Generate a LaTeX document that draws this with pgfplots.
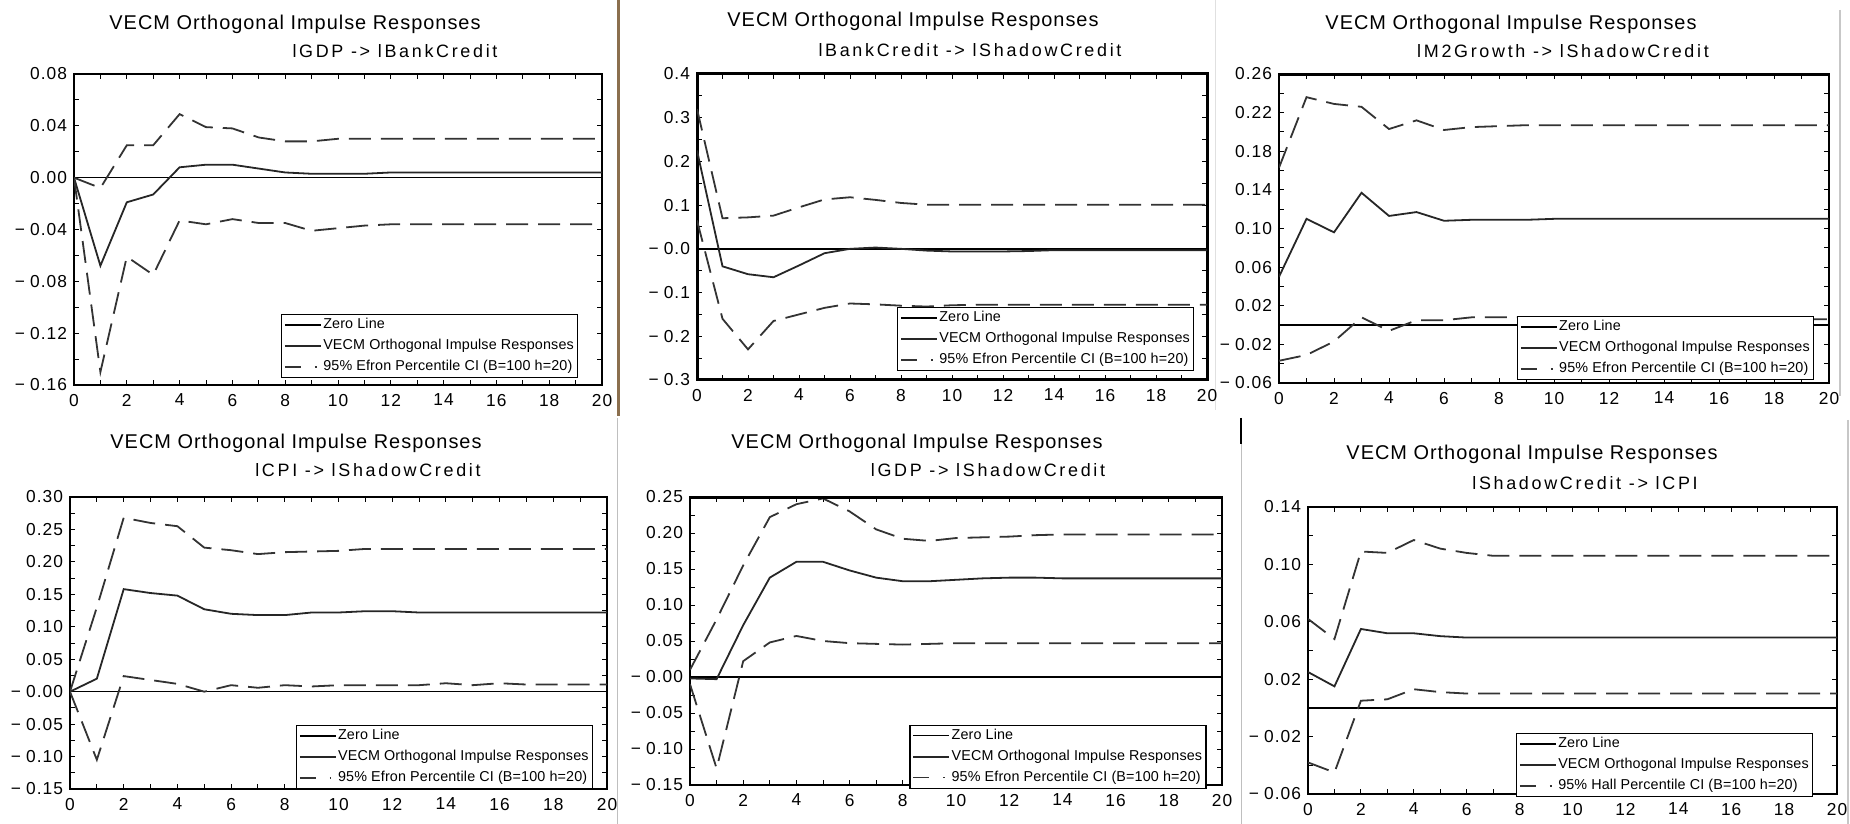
\documentclass[border=0pt]{standalone}
\usepackage{fontspec}
\setmainfont{Liberation Sans}
\newfontfamily\ttlfont[LetterSpace=5]{Liberation Sans}
\newfontfamily\subfont[LetterSpace=15]{Liberation Sans}
\newfontfamily\tickfont[LetterSpace=6]{Liberation Sans}
\newfontfamily\legfont[LetterSpace=1]{Liberation Sans}
\usepackage{pgfplots}
\usepackage{pgfplotstable}
\pgfplotsset{compat=1.18}

\pgfplotstableread{
x irf up lo
0 0.000 0.000 0.000
1 -0.068 -0.008 -0.150
2 -0.019 0.025 -0.061
3 -0.013 0.025 -0.075
4 0.008 0.049 -0.033
5 0.010 0.039 -0.036
6 0.010 0.038 -0.032
7 0.007 0.031 -0.035
8 0.004 0.028 -0.035
9 0.003 0.028 -0.041
10 0.003 0.030 -0.039
11 0.003 0.030 -0.037
12 0.004 0.030 -0.036
13 0.004 0.030 -0.036
14 0.004 0.030 -0.036
15 0.004 0.030 -0.036
16 0.004 0.030 -0.036
17 0.004 0.030 -0.036
18 0.004 0.030 -0.036
19 0.004 0.030 -0.036
20 0.004 0.030 -0.036
}\tabA

\pgfplotstableread{
x irf up lo
0 0.225 0.320 0.065
1 -0.040 0.070 -0.160
2 -0.058 0.072 -0.230
3 -0.065 0.076 -0.165
4 -0.038 0.095 -0.150
5 -0.010 0.113 -0.135
6 0.000 0.118 -0.125
7 0.003 0.112 -0.127
8 0.000 0.105 -0.130
9 -0.004 0.101 -0.132
10 -0.006 0.101 -0.129
11 -0.006 0.101 -0.128
12 -0.006 0.101 -0.128
13 -0.005 0.101 -0.128
14 -0.003 0.101 -0.128
15 -0.003 0.101 -0.128
16 -0.003 0.101 -0.128
17 -0.003 0.101 -0.128
18 -0.003 0.101 -0.128
19 -0.003 0.101 -0.128
20 -0.003 0.101 -0.128
}\tabB

\pgfplotstableread{
x irf up lo
0 0.050 0.163 -0.037
1 0.110 0.236 -0.031
2 0.096 0.229 -0.017
3 0.137 0.226 0.008
4 0.113 0.203 -0.006
5 0.117 0.212 0.005
6 0.108 0.202 0.005
7 0.109 0.205 0.008
8 0.109 0.206 0.008
9 0.109 0.207 0.008
10 0.110 0.207 0.007
11 0.110 0.207 0.006
12 0.110 0.207 0.006
13 0.110 0.207 0.006
14 0.110 0.207 0.006
15 0.110 0.207 0.006
16 0.110 0.207 0.006
17 0.110 0.207 0.006
18 0.110 0.207 0.006
19 0.110 0.207 0.006
20 0.110 0.207 0.006
}\tabC

\pgfplotstableread{
x irf up lo
0 0.000 0.000 0.000
1 0.020 0.130 -0.105
2 0.158 0.268 0.024
3 0.152 0.260 0.018
4 0.148 0.255 0.012
5 0.127 0.222 0.000
6 0.120 0.218 0.010
7 0.118 0.212 0.006
8 0.118 0.215 0.010
9 0.122 0.216 0.008
10 0.122 0.217 0.010
11 0.124 0.220 0.010
12 0.124 0.220 0.010
13 0.122 0.220 0.010
14 0.122 0.220 0.013
15 0.122 0.220 0.010
16 0.122 0.220 0.013
17 0.122 0.220 0.011
18 0.122 0.220 0.011
19 0.122 0.220 0.011
20 0.122 0.220 0.011
}\tabD

\pgfplotstableread{
x irf up lo
0 -0.002 0.010 -0.010
1 -0.003 0.080 -0.127
2 0.072 0.155 0.022
3 0.138 0.222 0.048
4 0.160 0.240 0.057
5 0.160 0.248 0.050
6 0.148 0.230 0.047
7 0.138 0.205 0.046
8 0.133 0.192 0.045
9 0.133 0.189 0.046
10 0.135 0.193 0.047
11 0.137 0.194 0.047
12 0.138 0.195 0.047
13 0.138 0.197 0.047
14 0.137 0.198 0.047
15 0.137 0.198 0.047
16 0.137 0.198 0.047
17 0.137 0.198 0.047
18 0.137 0.198 0.047
19 0.137 0.198 0.047
20 0.137 0.198 0.047
}\tabE

\pgfplotstableread{
x irf up lo
0 0.025 0.062 -0.038
1 0.015 0.048 -0.045
2 0.055 0.109 0.005
3 0.052 0.108 0.006
4 0.052 0.117 0.013
5 0.050 0.111 0.011
6 0.049 0.108 0.010
7 0.049 0.106 0.010
8 0.049 0.106 0.010
9 0.049 0.106 0.010
10 0.049 0.106 0.010
11 0.049 0.106 0.010
12 0.049 0.106 0.010
13 0.049 0.106 0.010
14 0.049 0.106 0.010
15 0.049 0.106 0.010
16 0.049 0.106 0.010
17 0.049 0.106 0.010
18 0.049 0.106 0.010
19 0.049 0.106 0.010
20 0.049 0.106 0.010
}\tabF

\tikzset{
  zl/.style={black, line width=0.8bp},
  ir/.style={black!85, line width=0.9bp},
  ci/.style={black!80, line width=0.9bp, dash pattern=on 11bp off 5bp},
}

\newcommand{\m}{−\hspace{2.5bp}}

\pgfplotsset{
  irf/.style={
    scale only axis, anchor=south west,
    xmin=0, xmax=20,
    xtick={0,2,...,20},
    xticklabels={0,2,4,6,8,10,12,14,16,18,20},
    minor x tick num=1, minor y tick num=1,
    tick align=inside,
    major tick length=2.5bp, minor tick length=2.5bp,
    every tick/.style={black, line width=0.5bp},
    axis line style={line width=0.7bp},
    ticklabel style={font=\tickfont\fontsize{8.7}{9}\selectfont},
    xticklabel style={yshift=-1bp},
    legend cell align=left,
    legend style={font=\legfont\fontsize{7.2}{8}\selectfont, draw=black, line width=0.6bp,
      inner sep=1.2bp, anchor=south east, row sep=2.4bp,
      nodes={inner sep=0.7bp}},
  },
  zeroplot/.style={zl, legend image code/.code={\draw[zl] (0bp,0bp) -- (18bp,0bp);}},
  irplot/.style={ir, legend image code/.code={\draw[ir] (0bp,0bp) -- (18bp,0bp);}},
  ciplot/.style={ci, legend image code/.code={\draw[black!80, line width=0.8bp, dash pattern=on 8bp off 7bp on 0.8bp off 20bp] (0bp,0bp) -- (18bp,0bp);}},
}

\newcommand{\ttl}{\ttlfont\fontsize{10}{11}\selectfont}
\newcommand{\sub}{\subfont\fontsize{9}{10}\selectfont}

\begin{document}
\begin{tikzpicture}
\path[use as bounding box] (0bp,0bp) rectangle (925bp,412bp);

% separators
\draw[color={rgb,255:red,139;green,111;blue,78}, line width=1.5bp] (309bp,412bp) -- (309bp,204bp);
\draw[black!25, line width=0.5bp] (308.5bp,203bp) -- (308.5bp,0bp);
\draw[black!25, line width=0.5bp] (620.5bp,203bp) -- (620.5bp,0bp);
\draw[black, line width=0.8bp] (620.5bp,203bp) -- (620.5bp,190bp);
\draw[black!12, line width=0.5bp] (607.5bp,412bp) -- (607.5bp,207bp);
\draw[black!22, line width=0.8bp] (920bp,407bp) -- (920bp,214bp);
\draw[black!22, line width=0.8bp] (924bp,202bp) -- (924bp,0bp);

% titles
\node at (147.5bp,400bp) {\ttl VECM Orthogonal Impulse Responses};
\node at (197.5bp,386.5bp) {\sub lGDP -> lBankCredit};
\node at (456.5bp,401.5bp) {\ttl VECM Orthogonal Impulse Responses};
\node at (485bp,387bp) {\sub lBankCredit -> lShadowCredit};
\node at (755.5bp,400bp) {\ttl VECM Orthogonal Impulse Responses};
\node at (781.5bp,386.5bp) {\sub lM2Growth -> lShadowCredit};
\node at (148bp,190.5bp) {\ttl VECM Orthogonal Impulse Responses};
\node at (184bp,177bp) {\sub lCPI -> lShadowCredit};
\node at (458.5bp,190.5bp) {\ttl VECM Orthogonal Impulse Responses};
\node at (494bp,177bp) {\sub lGDP -> lShadowCredit};
\node at (766bp,185bp) {\ttl VECM Orthogonal Impulse Responses};
\node at (792.5bp,170.5bp) {\sub lShadowCredit -> lCPI};

% Panel 1
\begin{axis}[irf, at={(37bp,219.5bp)}, width=264bp, height=155.5bp,
  ymin=-0.16, ymax=0.08, ytick={-0.16,-0.12,-0.08,-0.04,0,0.04,0.08},
  yticklabels={\m0.16,\m0.12,\m0.08,\m0.04,0.00,0.04,0.08},
  legend style={at={(0.955,0.023)}}]
\addplot[zeroplot] coordinates {(0,0) (20,0)};
\addlegendentry{Zero Line}
\addplot[irplot] table[x=x,y=irf] {\tabA};
\addlegendentry{VECM Orthogonal Impulse Responses}
\addplot[ciplot] table[x=x,y=up] {\tabA};
\addlegendentry{95\% Efron Percentile CI (B=100 h=20)}
\addplot[ci, forget plot] table[x=x,y=lo] {\tabA};
\end{axis}

% Panel 2
\begin{axis}[irf, at={(348.5bp,222bp)}, width=255bp, height=153bp,
  axis line style={line width=1.5bp},
  ymin=-0.3, ymax=0.4, ytick={-0.3,-0.2,-0.1,0,0.1,0.2,0.3,0.4},
  yticklabels={\m0.3,\m0.2,\m0.1,\m0.0,0.1,0.2,0.3,0.4},
  legend style={at={(0.975,0.03)}}]
\addplot[zeroplot] coordinates {(0,0) (20,0)};
\addlegendentry{Zero Line}
\addplot[irplot] table[x=x,y=irf] {\tabB};
\addlegendentry{VECM Orthogonal Impulse Responses}
\addplot[ciplot] table[x=x,y=up] {\tabB};
\addlegendentry{95\% Efron Percentile CI (B=100 h=20)}
\addplot[ci, forget plot] table[x=x,y=lo] {\tabB};
\end{axis}

% Panel 3
\begin{axis}[irf, at={(639.5bp,220.5bp)}, width=275bp, height=154.5bp,
  ymin=-0.06, ymax=0.26, ytick={-0.06,-0.02,0.02,0.06,0.10,0.14,0.18,0.22,0.26},
  yticklabels={\m0.06,\m0.02,0.02,0.06,0.10,0.14,0.18,0.22,0.26},
  legend style={at={(0.973,0.01)}}]
\addplot[zeroplot] coordinates {(0,0) (20,0)};
\addlegendentry{Zero Line}
\addplot[irplot] table[x=x,y=irf] {\tabC};
\addlegendentry{VECM Orthogonal Impulse Responses}
\addplot[ciplot] table[x=x,y=up] {\tabC};
\addlegendentry{95\% Efron Percentile CI (B=100 h=20)}
\addplot[ci, forget plot] table[x=x,y=lo] {\tabC};
\draw[black, line width=1.6bp] (rel axis cs:0,1) -- (rel axis cs:1,1);
\end{axis}

% Panel 4
\begin{axis}[irf, at={(35bp,17.5bp)}, width=268.5bp, height=146bp,
  ymin=-0.15, ymax=0.30, ytick={-0.15,-0.10,-0.05,0,0.05,0.10,0.15,0.20,0.25,0.30},
  yticklabels={\m0.15,\m0.10,\m0.05,\m0.00,0.05,0.10,0.15,0.20,0.25,0.30},
  legend style={at={(0.974,0.0)}}]
\addplot[zeroplot] coordinates {(0,0) (20,0)};
\addlegendentry{Zero Line}
\addplot[irplot] table[x=x,y=irf] {\tabD};
\addlegendentry{VECM Orthogonal Impulse Responses}
\addplot[ciplot] table[x=x,y=up] {\tabD};
\addlegendentry{95\% Efron Percentile CI (B=100 h=20)}
\addplot[ci, forget plot] table[x=x,y=lo] {\tabD};
\end{axis}

% Panel 5
\begin{axis}[irf, at={(345bp,19.5bp)}, width=266bp, height=144bp,
  ymin=-0.15, ymax=0.25, ytick={-0.15,-0.10,-0.05,0,0.05,0.10,0.15,0.20,0.25},
  yticklabels={\m0.15,\m0.10,\m0.05,\m0.00,0.05,0.10,0.15,0.20,0.25},
  legend style={at={(0.971,-0.013)}}]
\addplot[zeroplot] coordinates {(0,0) (20,0)};
\addlegendentry{Zero Line}
\addplot[irplot] table[x=x,y=irf] {\tabE};
\addlegendentry{VECM Orthogonal Impulse Responses}
\addplot[ciplot] table[x=x,y=up] {\tabE};
\addlegendentry{95\% Efron Percentile CI (B=100 h=20)}
\addplot[ci, forget plot] table[x=x,y=lo] {\tabE};
\draw[black, line width=1.6bp] (rel axis cs:0,1) -- (rel axis cs:1,1);
\end{axis}

% Panel 6
\begin{axis}[irf, at={(654bp,15bp)}, width=264.5bp, height=143.5bp,
  ymin=-0.06, ymax=0.14, ytick={-0.06,-0.02,0.02,0.06,0.10,0.14},
  yticklabels={\m0.06,\m0.02,0.02,0.06,0.10,0.14},
  legend style={at={(0.955,-0.01)}}]
\addplot[zeroplot] coordinates {(0,0) (20,0)};
\addlegendentry{Zero Line}
\addplot[irplot] table[x=x,y=irf] {\tabF};
\addlegendentry{VECM Orthogonal Impulse Responses}
\addplot[ciplot] table[x=x,y=up] {\tabF};
\addlegendentry{95\% Hall Percentile CI (B=100 h=20)}
\addplot[ci, forget plot] table[x=x,y=lo] {\tabF};
\end{axis}
\end{tikzpicture}
\end{document}
